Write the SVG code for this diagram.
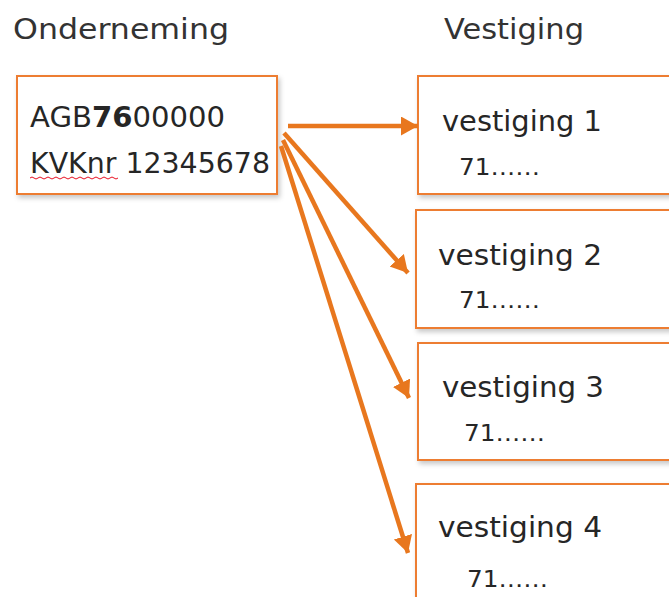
<svg xmlns="http://www.w3.org/2000/svg" width="669" height="597" viewBox="0 0 669 597">
<style>
.box{fill:#fff;stroke:#ED7D31;stroke-width:2;filter:url(#sh)}
.t{font-family:"DejaVu Sans","Liberation Sans",sans-serif;fill:#262626}
.big{font-size:28px}
.hd{font-size:29px;fill:#333}
.sm{font-size:23px}
.conn{stroke:#E8771E;stroke-width:4.5;fill:none;marker-end:url(#ah)}
</style>
<defs>
<filter id="sh" x="-10%" y="-10%" width="130%" height="130%">
<feDropShadow dx="2" dy="3" stdDeviation="2.5" flood-color="#000" flood-opacity="0.22"/>
</filter>
<marker id="ah" markerUnits="userSpaceOnUse" markerWidth="20" markerHeight="20" refX="17" refY="9.5" orient="auto">
<path d="M0,0 L17,9.5 L0,19 Z" fill="#E8771E"/>
</marker>
</defs>
<rect width="669" height="597" fill="#fff"/>
<text class="t hd" x="13" y="39" textLength="216" lengthAdjust="spacingAndGlyphs">Onderneming</text>
<text class="t hd" x="444" y="39" textLength="140" lengthAdjust="spacingAndGlyphs">Vestiging</text>
<g id="onderneming">
<rect class="box" x="17" y="76" width="260" height="118"/>
<text class="t big" x="30" y="127" textLength="195" lengthAdjust="spacingAndGlyphs">AGB<tspan font-weight="bold">76</tspan>00000</text>
<text class="t big" x="30" y="173" textLength="240" lengthAdjust="spacingAndGlyphs">KVKnr 12345678</text>
<path d="M30,178 q2,-2 4,0 t4,0 t4,0 t4,0 t4,0 t4,0 t4,0 t4,0 t4,0 t4,0 t4,0 t4,0 t4,0 t4,0 t4,0 t4,0 t4,0 t4,0 t4,0 t4,0 t4,0 t4,0" fill="none" stroke="#E81123" stroke-width="1"/>
</g>
<g id="vestiging1">
<rect class="box" x="418" y="76" width="260" height="118"/>
<text class="t big" x="442" y="131" textLength="160" lengthAdjust="spacingAndGlyphs">vestiging 1</text>
<text class="t sm" x="459" y="175" textLength="81" lengthAdjust="spacingAndGlyphs">71……</text>
</g>
<g id="vestiging2">
<rect class="box" x="416" y="210" width="262" height="118"/>
<text class="t big" x="438" y="265" textLength="164" lengthAdjust="spacingAndGlyphs">vestiging 2</text>
<text class="t sm" x="459" y="308" textLength="81" lengthAdjust="spacingAndGlyphs">71……</text>
</g>
<g id="vestiging3">
<rect class="box" x="418" y="343" width="260" height="117"/>
<text class="t big" x="442" y="397" textLength="162" lengthAdjust="spacingAndGlyphs">vestiging 3</text>
<text class="t sm" x="464" y="441" textLength="81" lengthAdjust="spacingAndGlyphs">71……</text>
</g>
<g id="vestiging4">
<rect class="box" x="416" y="484" width="262" height="130"/>
<text class="t big" x="438" y="537" textLength="164" lengthAdjust="spacingAndGlyphs">vestiging 4</text>
<text class="t sm" x="467" y="587" textLength="81" lengthAdjust="spacingAndGlyphs">71……</text>
</g>
<g id="connectors">
<line class="conn" x1="288" y1="126" x2="418" y2="126"/>
<line class="conn" x1="284" y1="133" x2="408" y2="273"/>
<line class="conn" x1="283" y1="140" x2="409" y2="398"/>
<line class="conn" x1="281" y1="146" x2="408" y2="553"/>
</g>
</svg>
